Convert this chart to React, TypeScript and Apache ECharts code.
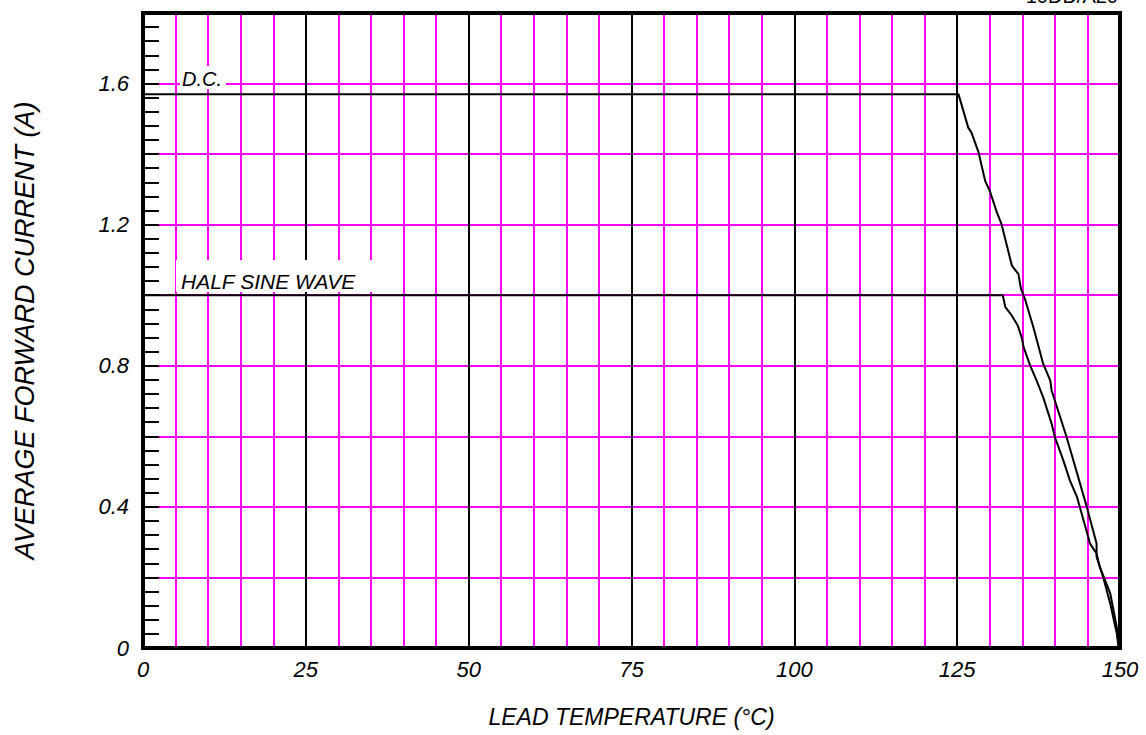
import React, { useEffect, useRef } from "react";
import * as echarts from "echarts";

// Lead temperature (°C) vs average forward current (A)
const dcTemp = [0, 125.2, 126.7, 127.2, 128.3, 129.3, 130.0, 131.1, 131.8, 133.4, 134.4, 134.8, 135.4, 136.7, 138.2, 139.3, 139.5, 141.8, 144.9, 146.4, 146.4, 147.4, 148.5, 149.5, 149.8];
const dcCurrent = [1.57, 1.57, 1.475, 1.461, 1.404, 1.324, 1.296, 1.235, 1.202, 1.084, 1.06, 1.018, 0.99, 0.909, 0.806, 0.758, 0.73, 0.598, 0.4, 0.296, 0.258, 0.202, 0.126, 0.042, 0.0];

const halfTemp = [0, 132.0, 132.4, 133.4, 134.3, 134.9, 135.2, 136.2, 137.2, 138.2, 139.5, 140.0, 141.3, 142.3, 143.4, 145.4, 146.4, 146.9, 148.5, 149.5, 149.8];
const halfCurrent = [1.0, 1.0, 0.966, 0.942, 0.914, 0.881, 0.853, 0.801, 0.758, 0.711, 0.636, 0.598, 0.532, 0.475, 0.428, 0.296, 0.268, 0.23, 0.155, 0.06, 0.0];

const xLabelValues = [0, 25, 50, 75, 100, 125, 150];
const yLabelValues = [0, 0.4, 0.8, 1.2, 1.6];

const seriesNames = ["D.C.", "HALF SINE WAVE"];
const xTitle = "LEAD TEMPERATURE (°C)";
const yTitle = "AVERAGE FORWARD CURRENT (A)";
const partNumber = "10DD/A20";

const FONT = '"Liberation Sans", Arial, sans-serif';

export default function App() {
  const ref = useRef<HTMLDivElement>(null);

  useEffect(() => {
    if (!ref.current) return;
    const chart = echarts.init(ref.current, undefined, { renderer: "svg" });

    const dcData = dcTemp.map((t, i) => [t, dcCurrent[i]]);
    const halfData = halfTemp.map((t, i) => [t, halfCurrent[i]]);

    const option: any = {
      animation: false,
      backgroundColor: "#fff",
      grid: {
        left: 143,
        right: 26,
        top: 13,
        bottom: 87,
        show: true,
        borderColor: "#000",
        borderWidth: 4,
        backgroundColor: "transparent",
        z: 3,
      },
      xAxis: [
        {
          type: "value",
          position: "bottom",
          min: 0,
          max: 150,
          interval: 5,
          axisLine: { show: false },
          axisTick: { show: false },
          axisLabel: { show: false },
          splitLine: { show: true, lineStyle: { color: "#ff00ff", width: 2 } },
          name: xTitle,
          nameLocation: "middle",
          nameGap: 57,
          nameTextStyle: {
            fontFamily: FONT,
            fontStyle: "italic",
            fontSize: 23,
            color: "#000",
          },
        },
        {
          type: "value",
          position: "bottom",
          min: 0,
          max: 150,
          interval: 25,
          axisLine: { show: false },
          axisTick: { show: false },
          axisLabel: {
            show: true,
            margin: 10,
            fontFamily: FONT,
            fontStyle: "italic",
            fontSize: 22,
            color: "#000",
            formatter: (v: number) =>
              xLabelValues.some((x) => Math.abs(x - v) < 1e-6) ? String(v) : "",
          },
          splitLine: { show: true, lineStyle: { color: "#000", width: 2 } },
        },
      ],
      yAxis: {
        type: "value",
        min: 0,
        max: 1.8,
        interval: 0.2,
        axisLine: { show: false },
        axisTick: {
          show: true,
          inside: true,
          length: 16,
          lineStyle: { color: "#000", width: 2 },
        },
        minorTick: {
          show: true,
          splitNumber: 5,
          length: 16,
          lineStyle: { color: "#000", width: 2 },
        },
        axisLabel: {
          show: true,
          margin: 14,
          fontFamily: FONT,
          fontStyle: "italic",
          fontSize: 22,
          color: "#000",
          formatter: (v: number) =>
            yLabelValues.some((y) => Math.abs(y - v) < 1e-6) ? String(Math.round(v * 10) / 10) : "",
        },
        splitLine: { show: true, lineStyle: { color: "#ff00ff", width: 2 } },
        name: yTitle,
        nameLocation: "middle",
        nameGap: 105,
        nameRotate: 90,
        nameTextStyle: {
          fontFamily: FONT,
          fontStyle: "italic",
          fontSize: 27,
          color: "#000",
        },
      },
      series: [
        {
          name: seriesNames[0],
          type: "line",
          xAxisIndex: 0,
          data: dcData,
          showSymbol: false,
          symbol: "none",
          lineStyle: { color: "#000", width: 2 },
          z: 4,
        },
        {
          name: seriesNames[1],
          type: "line",
          xAxisIndex: 0,
          data: halfData,
          showSymbol: false,
          symbol: "none",
          lineStyle: { color: "#000", width: 2 },
          z: 4,
        },
      ],
      graphic: [
        {
          type: "rect",
          z: 5,
          shape: { x: 180, y: 66, width: 46, height: 23 },
          style: { fill: "#fff" },
        },
        {
          type: "text",
          z: 6,
          x: 182,
          y: 79,
          style: {
            text: seriesNames[0],
            font: `italic 20px ${FONT}`,
            fill: "#000",
            verticalAlign: "middle",
            align: "left",
          },
        },
        {
          type: "rect",
          z: 5,
          shape: { x: 176, y: 260, width: 196, height: 32 },
          style: { fill: "#fff" },
        },
        {
          type: "text",
          z: 6,
          x: 181,
          y: 281,
          style: {
            text: seriesNames[1],
            font: `italic 21px ${FONT}`,
            fill: "#000",
            verticalAlign: "middle",
            align: "left",
          },
        },
        {
          type: "text",
          z: 6,
          x: 1118,
          y: 6,
          style: {
            text: partNumber,
            font: `20px ${FONT}`,
            fill: "#000",
            verticalAlign: "bottom",
            align: "right",
          },
        },
      ],
    };

    chart.setOption(option);
    return () => chart.dispose();
  }, []);

  return (
    <div
      ref={ref}
      style={{ position: "fixed", left: 0, top: 0, width: 1146, height: 735, background: "#fff" }}
    />
  );
}
